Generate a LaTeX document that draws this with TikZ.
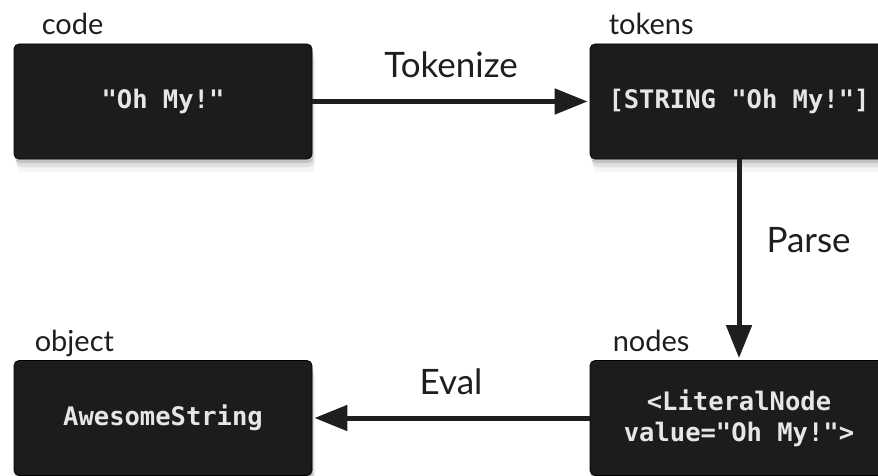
\documentclass[tikz,border=0pt]{standalone}
\usepackage{fontspec}
\setmainfont{Lato}
\newfontfamily\codefont{DejaVu Sans Mono}
\usepackage{xcolor}
\usetikzlibrary{arrows.meta,shadows}
\definecolor{boxgray}{HTML}{1C1C1C}
\definecolor{boxtext}{HTML}{E6E6E6}
\definecolor{inkgray}{HTML}{1E1E1E}
\tikzset{stage/.style = {draw = black, line width = 0.8pt, fill = boxgray, rounded corners = 5pt, minimum width = 298pt, minimum height = 115pt, inner sep = 0pt, align = center, text = boxtext, font = \codefont\bfseries\fontsize{25.5}{31}\selectfont, drop shadow = {shadow xshift = 1pt, shadow yshift = -4pt, opacity = 0.3}, drop shadow = {shadow xshift = 2pt, shadow yshift = -8pt, opacity = 0.18}, drop shadow = {shadow xshift = 3pt, shadow yshift = -13pt, opacity = 0.08}}}
\tikzset{tag/.style = {anchor = base west, inner sep = 0pt, text = inkgray, font = \fontsize{29}{34}\selectfont}}
\tikzset{step label/.style = {inner sep = 0pt, text = inkgray, font = \fontsize{35}{40}\selectfont}}
\tikzset{flow/.style = {draw = inkgray, line width = 5pt, -{Triangle[length = 33pt, width = 25pt]}, shorten > = 2pt}}

\begin{document}
\begin{tikzpicture}[x = 1pt, y = -1pt]

  \def\leftx{163}
  \def\rightx{739}
  \def\topy{101.5}
  \def\boty{418}

  \useasboundingbox (0 , 0) rectangle (878 , 476);
  \clip (0 , 0) rectangle (878 , 476);

  \node [stage] (code) at (\leftx , \topy) {"Oh My!"};
  \node [stage] (tokens) at (\rightx , \topy) {[STRING "Oh My!"]};
  \node [stage] (ast) at (\rightx , \boty) {<LiteralNode\\value="Oh My!">};
  \node [stage] (object) at (\leftx , \boty) {AwesomeString};

  \node [tag] (codetag) at ([xshift = 28pt, yshift = 9pt] code.north west) {code};
  \node [tag] (tokenstag) at ([xshift = 19pt, yshift = 9pt] tokens.north west) {tokens};
  \node [tag] (asttag) at ([xshift = 23pt, yshift = 9pt] ast.north west) {nodes};
  \node [tag] (objecttag) at ([xshift = 21pt, yshift = 9pt] object.north west) {object};

  \draw [flow] (code) -- node [step label, midway, above = 21pt] (tokenize) {Tokenize} (tokens);
  \draw [flow] (tokens) -- node [step label, pos = 0.4, right = 25pt] (parse) {Parse} (ast);
  \draw [flow] (ast) -- node [step label, midway, above = 21pt] (eval) {Eval} (object);

\end{tikzpicture}
\end{document}
